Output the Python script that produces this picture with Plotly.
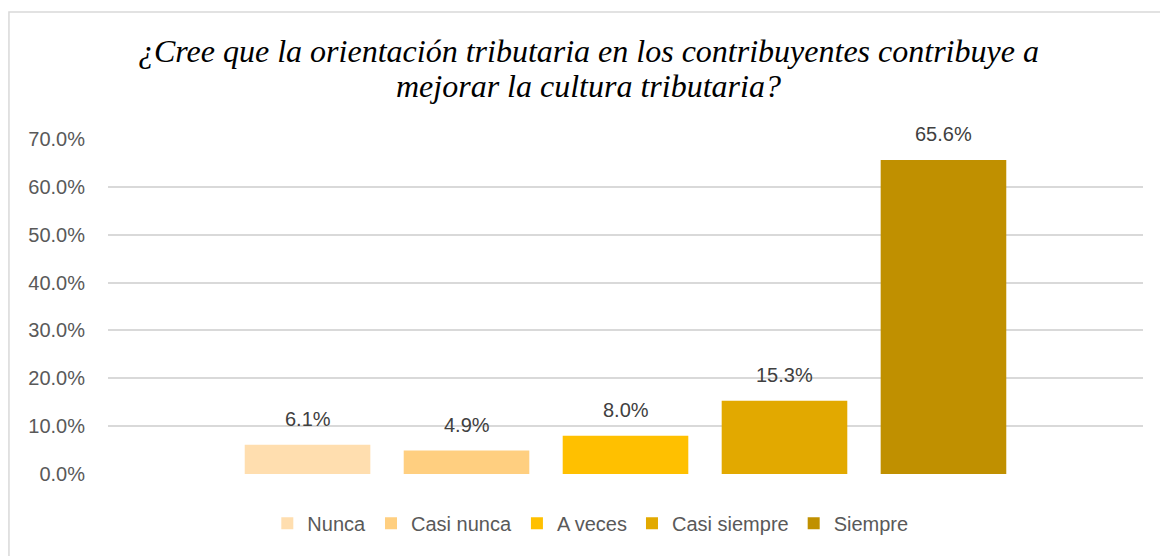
import plotly.graph_objects as go

categories = ["Nunca", "Casi nunca", "A veces", "Casi siempre", "Siempre"]
values = [0.061, 0.049, 0.080, 0.153, 0.656]
labels = ["6.1%", "4.9%", "8.0%", "15.3%", "65.6%"]
colors = ["#FFDEAF", "#FFCF80", "#FFC000", "#E2A900", "#C09000"]
y_ticks = [0, 0.1, 0.2, 0.3, 0.4, 0.5, 0.6, 0.7]
y_tick_labels = ["0.0%", "10.0%", "20.0%", "30.0%", "40.0%", "50.0%", "60.0%", "70.0%"]
title_lines = ["¿Cree que la orientación tributaria en los contribuyentes contribuye a",
               "mejorar la cultura tributaria?"]

fig = go.Figure()
for cat, val, col in zip(categories, values, colors):
    fig.add_trace(go.Bar(x=[cat], y=[val], name=cat, marker=dict(color=col, line=dict(width=0)),
                         width=0.79, hoverinfo="skip"))

for cat, val, lab in zip(categories, values, labels):
    fig.add_annotation(x=cat, y=val, text=lab, showarrow=False, yanchor="bottom",
                       yshift=13, font=dict(family="Liberation Sans", size=20, color="#404040"))

# title as two lines (tight line spacing)
title_font = dict(family="Liberation Serif", size=32, color="#000000", style="italic")
for line, ypos in zip(title_lines, [1.262, 1.158]):
    fig.add_annotation(xref="paper", yref="paper", x=0.4643, y=ypos, text=line, showarrow=False,
                       xanchor="center", yanchor="middle", font=title_font)

# chart border
fig.add_shape(type="rect", xref="paper", yref="paper", x0=-0.0957, x1=1.03, y0=-0.4, y1=1.379,
              line=dict(color="#D9D9D9", width=1.5), layer="below")

fig.update_layout(
    width=1160, height=548,
    margin=dict(l=100, r=25, t=131, b=82),
    paper_bgcolor="white", plot_bgcolor="white",
    barmode="overlay",
    showlegend=True,
    legend=dict(orientation="h", x=0.466, xanchor="center", y=-0.147, yanchor="middle",
                font=dict(family="Liberation Sans", size=20, color="#595959"),
                traceorder="normal", itemclick=False),
    xaxis=dict(type="category", range=[-1.255, 5.255], showticklabels=False, showgrid=False,
               zeroline=False, showline=False, ticks=""),
    yaxis=dict(range=[0, 0.7], tickvals=y_ticks, ticktext=y_tick_labels, showgrid=True,
               gridcolor="#D9D9D9", gridwidth=1.5, zeroline=False, showline=False,
               ticklabelstandoff=22,
               tickfont=dict(family="Liberation Sans", size=20, color="#595959")),
)

fig.write_html("out.html")
